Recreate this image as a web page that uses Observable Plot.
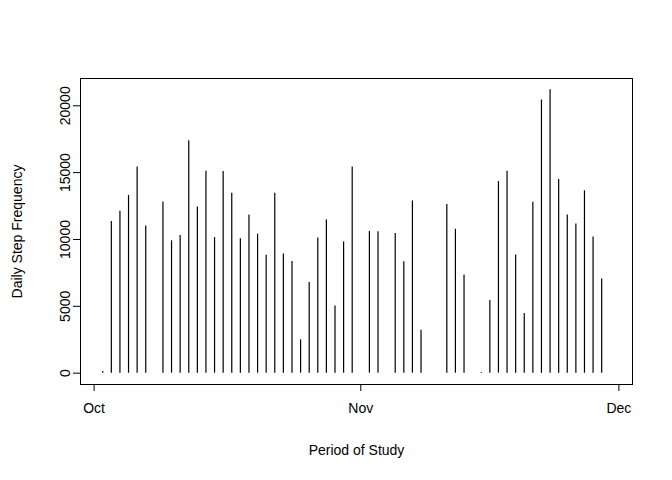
<!DOCTYPE html>
<html>
<head>
<meta charset="utf-8">
<script src="https://cdn.jsdelivr.net/npm/d3@7"></script>
<script src="https://cdn.jsdelivr.net/npm/@observablehq/plot@0.6"></script>
<style>
  body { margin: 0; background: #fff; }
  svg { font-family: "Liberation Sans", Arial, sans-serif; }
</style>
</head>
<body>
<div id="chart"></div>
<script>
// daily step totals, Oct 1 - Nov 30 (null = missing day)
const dates = d3.utcDays(new Date(Date.UTC(2012, 9, 1)), new Date(Date.UTC(2012, 11, 1)))
const steps = [
  null, 126, 11352, 12116, 13294, 15420, 11015, null, 12811, 9900,
  10304, 17382, 12426, 15098, 10139, 15084, 13452, 10056, 11829, 10395,
  8821, 13460, 8918, 8355, 2492, 6778, 10119, 11458, 5018, 9819, 15414,
  null, 10600, 10571, null, 10439, 8334, 12883, 3219, null, null,
  12608, 10765, 7336, null, 41, 5441, 14339, 15110, 8841, 4472,
  12787, 20427, 21194, 14478, 11834, 11162, 13646, 10183, 7047, null
]
const xTicks = [new Date(Date.UTC(2012, 9, 1)), new Date(Date.UTC(2012, 10, 1)), new Date(Date.UTC(2012, 11, 1))]
const yTicks = [0, 5000, 10000, 15000, 20000]

const data = dates.map((d, i) => ({date: d, steps: steps[i]})).filter(d => d.steps != null)

const chart = Plot.plot({
  width: 672,
  height: 480,
  marginLeft: 80,
  marginRight: 40,
  marginTop: 78,
  marginBottom: 96,
  style: {fontSize: "14px", color: "#000"},
  x: {
    type: "utc",
    domain: [new Date(Date.UTC(2012, 8, 29, 10)), new Date(Date.UTC(2012, 11, 2, 14))]
  },
  y: {domain: [-848, 22042]},
  marks: [
    Plot.frame({stroke: "#000"}),
    Plot.ruleX(data, {x: "date", y1: 0, y2: "steps", stroke: "#000", strokeWidth: 1.2}),
    Plot.axisX({
      ticks: xTicks, tickFormat: d3.utcFormat("%b"), tickSize: 7, tickPadding: 12,
      label: "Period of Study", labelAnchor: "center", labelArrow: "none", labelOffset: 70
    }),
    Plot.ruleY([0], {x1: xTicks[0], x2: xTicks[2], dy: 13, stroke: "#000", strokeOpacity: 0}),
    Plot.axisY({
      ticks: yTicks, tickSize: 7, tickPadding: 4, tickRotate: -90,
      tickFormat: d => String(d),
      label: "Daily Step Frequency", labelAnchor: "center", labelArrow: "none", labelOffset: 68
    })
  ]
})

document.getElementById("chart").append(chart)
</script>
</body>
</html>
